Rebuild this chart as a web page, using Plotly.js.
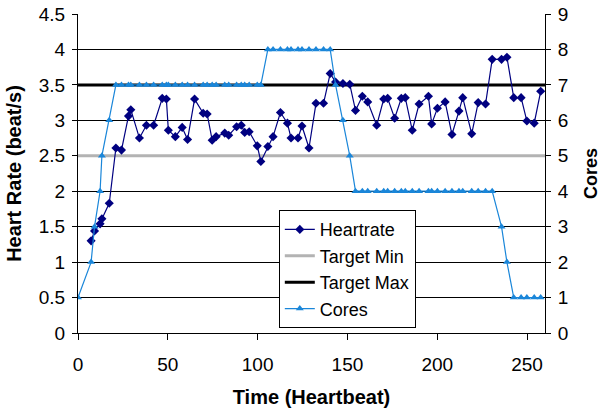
<!DOCTYPE html>
<html>
<head>
<meta charset="utf-8">
<script src="https://cdn.plot.ly/plotly-3.0.1.min.js"></script>
<style>html,body{margin:0;padding:0;background:#fff;}#chart{width:601px;height:411px;}</style>
</head>
<body>
<div id="chart"></div>
<script>
// Time (heartbeat index) of each sample
var time = [7.3, 9.2, 12.3, 13.3, 17.4, 21.1, 24.2, 28.1, 29.4, 34.2, 38.1, 42.1, 46.9, 49.2, 50.3, 54.2, 58.0, 61.0, 64.9, 69.7, 71.9, 74.7, 76.9, 81.7, 83.9, 88.3, 90.9, 92.8, 95.3, 99.8, 101.8, 105.7, 108.6, 112.7, 116.6, 118.6, 122.5, 124.7, 128.6, 132.5, 136.7, 140.4, 143.4, 147.5, 151.3, 154.5, 158.3, 161.3, 166.3, 170.2, 172.4, 176.3, 180.0, 182.2, 186.1, 189.9, 195.1, 196.9, 200.1, 204.4, 208.2, 212.1, 214.2, 219.2, 222.8, 226.9, 230.6, 235.8, 238.8, 242.6, 246.7, 249.9, 254.0, 257.6];
// Heart rate (beat/s)
var heartrate = [1.30, 1.44, 1.54, 1.61, 1.83, 2.61, 2.58, 3.06, 3.15, 2.75, 2.93, 2.93, 3.31, 3.30, 2.86, 2.77, 2.90, 2.73, 3.30, 3.10, 3.09, 2.72, 2.77, 2.82, 2.79, 2.91, 2.93, 2.83, 2.84, 2.64, 2.42, 2.63, 2.77, 3.11, 2.96, 2.75, 2.75, 2.92, 2.61, 3.24, 3.24, 3.66, 3.54, 3.52, 3.51, 3.14, 3.34, 3.26, 2.93, 3.30, 3.31, 3.03, 3.31, 3.32, 2.86, 3.23, 3.34, 2.95, 3.17, 3.26, 2.80, 3.13, 3.32, 2.81, 3.25, 3.23, 3.86, 3.86, 3.89, 3.32, 3.32, 2.99, 2.96, 3.41];
// Cores series (starts at time 0)
var coresTime = [0, 7.3, 9.2, 12.3, 13.3, 17.4, 21.1, 24.2, 28.1, 29.4, 34.2, 38.1, 42.1, 46.9, 49.2, 50.3, 54.2, 58.0, 61.0, 64.9, 69.7, 71.9, 74.7, 76.9, 81.7, 83.9, 88.3, 90.9, 92.8, 95.3, 99.8, 101.8, 105.7, 108.6, 112.7, 116.6, 118.6, 122.5, 124.7, 128.6, 132.5, 136.7, 140.4, 143.4, 147.5, 151.3, 154.5, 158.3, 161.3, 166.3, 170.2, 172.4, 176.3, 180.0, 182.2, 186.1, 189.9, 195.1, 196.9, 200.1, 204.4, 208.2, 212.1, 214.2, 219.2, 222.8, 226.9, 230.6, 235.8, 238.8, 242.6, 246.7, 249.9, 254.0, 257.6];
var cores = [1, 2, 3, 4, 5, 6, 7, 7, 7, 7, 7, 7, 7, 7, 7, 7, 7, 7, 7, 7, 7, 7, 7, 7, 7, 7, 7, 7, 7, 7, 7, 7, 8, 8, 8, 8, 8, 8, 8, 8, 8, 8, 8, 7, 6, 5, 4, 4, 4, 4, 4, 4, 4, 4, 4, 4, 4, 4, 4, 4, 4, 4, 4, 4, 4, 4, 4, 4, 3, 2, 1, 1, 1, 1, 1];
// Target band
var targetTime = [0, 260];
var targetMin = [2.5, 2.5];
var targetMax = [3.5, 3.5];

var FONT = 'Liberation Sans, Arial, Helvetica, sans-serif';

var traces = [
  {x: targetTime, y: targetMin, name: 'Target Min', mode: 'lines', line: {color: '#b3b3b3', width: 3}, legendrank: 2, hoverinfo: 'skip'},
  {x: targetTime, y: targetMax, name: 'Target Max', mode: 'lines', line: {color: '#000000', width: 3}, legendrank: 3, hoverinfo: 'skip'},
  {x: time, y: heartrate, name: 'Heartrate', mode: 'lines+markers', line: {color: '#000080', width: 1.2}, marker: {symbol: 'diamond', size: 7, color: '#000080'}, legendrank: 1},
  {x: coresTime, y: cores, name: 'Cores', yaxis: 'y2', mode: 'lines+markers', line: {color: '#1a86d9', width: 1.2}, marker: {symbol: 'triangle-up', size: 7, color: '#1a86d9'}, legendrank: 4}
];

var layout = {
  width: 601, height: 411,
  margin: {l: 78, r: 56, t: 14, b: 78, pad: 0},
  paper_bgcolor: '#ffffff', plot_bgcolor: '#ffffff',
  font: {family: FONT, size: 19, color: '#000'},
  showlegend: true,
  legend: {x: 0.43, y: 0.385, xanchor: 'left', yanchor: 'top', bgcolor: '#ffffff', bordercolor: '#000', borderwidth: 1, font: {family: FONT, size: 18, color: '#000'}, traceorder: 'normal'},
  xaxis: {range: [0, 260], dtick: 50, tick0: 0, showgrid: false, zeroline: false, showline: true, linecolor: '#000', linewidth: 1, ticks: 'outside', ticklen: 6, tickcolor: '#000', ticklabelstandoff: 8, tickfont: {family: FONT, size: 19}, automargin: false, title: {text: '<b>Time (Heartbeat)</b>', font: {family: FONT, size: 20}, standoff: 16}},
  yaxis: {range: [0, 4.5], dtick: 0.5, tick0: 0, showgrid: true, gridcolor: '#000', gridwidth: 1, zeroline: false, showline: true, linecolor: '#000', linewidth: 1, ticks: 'outside', ticklen: 5, tickcolor: '#000', ticklabelstandoff: 3, tickfont: {family: FONT, size: 19}, automargin: false, title: {text: '<b>Heart Rate (beat/s)</b>', font: {family: FONT, size: 20}, standoff: 11}},
  yaxis2: {overlaying: 'y', side: 'right', range: [0, 9], dtick: 1, tick0: 0, showgrid: false, zeroline: false, showline: true, linecolor: '#000', linewidth: 1, ticks: 'outside', ticklen: 5, tickcolor: '#000', ticklabelstandoff: 3, tickfont: {family: FONT, size: 19}, automargin: false, title: {text: '<b>Cores</b>', font: {family: FONT, size: 18}, standoff: 20}}
};

Plotly.newPlot('chart', traces, layout, {displayModeBar: false, staticPlot: true});
</script>
</body>
</html>
